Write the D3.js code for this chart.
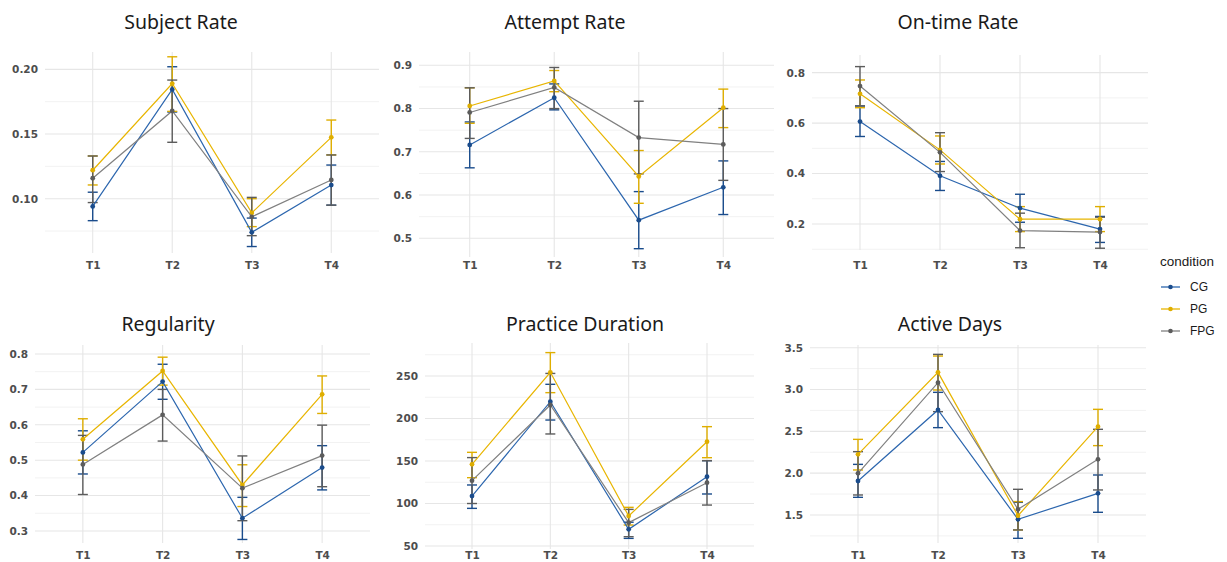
<!DOCTYPE html>
<html>
<head>
<meta charset="utf-8">
<script src="https://cdn.jsdelivr.net/npm/d3@7"></script>
<style>
  body { margin: 0; background: #fff; }
  .tick text { font-family: "DejaVu Sans", sans-serif; font-weight: bold; fill: #4d4d4d; }
</style>
</head>
<body>
<svg id="chart" width="1227" height="562"></svg>
<script>
const times = ['T1', 'T2', 'T3', 'T4'];
const conditions = ['CG', 'PG', 'FPG'];

// rows: CG, PG, FPG
const subjectMean = [[0.094, 0.1845, 0.074, 0.1105], [0.122, 0.189, 0.089, 0.1474], [0.1158, 0.1678, 0.086, 0.1145]];
const subjectLow = [[0.083, 0.167, 0.063, 0.095], [0.1106, 0.1675, 0.0784, 0.1338], [0.097, 0.1436, 0.0714, 0.095]];
const subjectHigh = [[0.105, 0.202, 0.085, 0.126], [0.133, 0.2097, 0.100, 0.1608], [0.133, 0.1917, 0.101, 0.1338]];

const attemptMean = [[0.716, 0.825, 0.542, 0.618], [0.806, 0.864, 0.643, 0.802], [0.791, 0.849, 0.733, 0.717]];
const attemptLow = [[0.663, 0.797, 0.476, 0.555], [0.766, 0.839, 0.581, 0.756], [0.731, 0.800, 0.649, 0.634]];
const attemptHigh = [[0.769, 0.857, 0.608, 0.679], [0.848, 0.888, 0.703, 0.845], [0.848, 0.895, 0.817, 0.800]];

const ontimeMean = [[0.606, 0.391, 0.263, 0.180], [0.716, 0.494, 0.219, 0.219], [0.747, 0.484, 0.174, 0.168]];
const ontimeLow = [[0.547, 0.333, 0.207, 0.127], [0.661, 0.438, 0.170, 0.170], [0.668, 0.408, 0.106, 0.104]];
const ontimeHigh = [[0.668, 0.448, 0.318, 0.230], [0.771, 0.549, 0.269, 0.269], [0.824, 0.562, 0.243, 0.227]];

const regularityMean = [[0.522, 0.722, 0.336, 0.479], [0.559, 0.752, 0.430, 0.686], [0.488, 0.628, 0.421, 0.513]];
const regularityLow = [[0.461, 0.672, 0.276, 0.416], [0.500, 0.712, 0.369, 0.632], [0.403, 0.554, 0.329, 0.425]];
const regularityHigh = [[0.583, 0.771, 0.395, 0.541], [0.617, 0.791, 0.487, 0.738], [0.570, 0.700, 0.512, 0.599]];

const durationMean = [[108.8, 219.8, 69.6, 131.6], [146.1, 254.3, 85.3, 172.7], [126.9, 215.9, 77.5, 124.5]];
const durationLow = [[94.3, 198.2, 59, 111.2], [130.4, 230.4, 74.7, 153.9], [100, 181.8, 61, 98.2]];
const durationHigh = [[121.8, 240.2, 78, 150.4], [160.2, 277.5, 95.5, 190.4], [154, 253, 93.1, 150.4]];

const activeMean = [[1.906, 2.755, 1.448, 1.759], [2.225, 3.205, 1.492, 2.556], [1.998, 3.082, 1.568, 2.165]];
const activeLow = [[1.711, 2.544, 1.221, 1.532], [2.038, 2.994, 1.321, 2.329], [1.739, 2.735, 1.321, 1.799]];
const activeHigh = [[2.105, 2.966, 1.651, 1.978], [2.404, 3.40, 1.66, 2.763], [2.257, 3.42, 1.807, 2.524]];

const lineColor = { CG: '#2c66ae', PG: '#e8b500', FPG: '#808080' };
const barColor = { CG: '#1a4c8c', PG: '#dfae00', FPG: '#5c5c5c' };

const panels = [
  { title: 'Subject Rate', mean: subjectMean, low: subjectLow, high: subjectHigh,
    x0: 45, x1: 379, y0: 52, y1: 253, dom: [0.058, 0.2134], ticks: [0.10, 0.15, 0.20], fmt: '.2f',
    tx: 181, ty: 21, ly: 267 },
  { title: 'Attempt Rate', mean: attemptMean, low: attemptLow, high: attemptHigh,
    x0: 419, x1: 774, y0: 52, y1: 257, dom: [0.4568, 0.9308], ticks: [0.5, 0.6, 0.7, 0.8, 0.9], fmt: '.1f',
    tx: 565, ty: 21, ly: 267 },
  { title: 'On-time Rate', mean: ontimeMean, low: ontimeLow, high: ontimeHigh,
    x0: 812, x1: 1148, y0: 55, y1: 250, dom: [0.097, 0.870], ticks: [0.2, 0.4, 0.6, 0.8], fmt: '.1f',
    tx: 958, ty: 21, ly: 267 },
  { title: 'Regularity', mean: regularityMean, low: regularityLow, high: regularityHigh,
    x0: 35, x1: 370, y0: 345, y1: 543, dom: [0.266, 0.8254], ticks: [0.3, 0.4, 0.5, 0.6, 0.7, 0.8], fmt: '.1f',
    tx: 168, ty: 323, ly: 557 },
  { title: 'Practice Duration', mean: durationMean, low: durationLow, high: durationHigh,
    x0: 425, x1: 754, y0: 343, y1: 549, dom: [46.5, 288.8], ticks: [50, 100, 150, 200, 250], fmt: 'd',
    tx: 585, ty: 323, ly: 557 },
  { title: 'Active Days', mean: activeMean, low: activeLow, high: activeHigh,
    x0: 810, x1: 1146, y0: 345, y1: 543, dom: [1.165, 3.532], ticks: [1.5, 2.0, 2.5, 3.0, 3.5], fmt: '.1f',
    tx: 950, ty: 323, ly: 557 },
];

const svg = d3.select('#chart');

panels.forEach((p) => {
  const x = d3.scalePoint().domain(times).range([p.x0, p.x1]).padding(0.6);
  const y = d3.scaleLinear().domain(p.dom).range([p.y1, p.y0]);
  const g = svg.append('g');

  // minor gridlines halfway between the majors
  const step = p.ticks[1] - p.ticks[0];
  const minor = [p.ticks[0] - step / 2, ...p.ticks.map((t) => t + step / 2)]
    .filter((v) => v >= p.dom[0] && v <= p.dom[1]);
  g.selectAll('.minor').data(minor).enter().append('line')
    .attr('x1', p.x0).attr('x2', p.x1)
    .attr('y1', (d) => y(d)).attr('y2', (d) => y(d))
    .attr('stroke', '#f2f2f2').attr('stroke-width', 1);
  g.selectAll('.major').data(p.ticks).enter().append('line')
    .attr('x1', p.x0).attr('x2', p.x1)
    .attr('y1', (d) => y(d)).attr('y2', (d) => y(d))
    .attr('stroke', '#e6e6e6').attr('stroke-width', 1.1);
  g.selectAll('.vgrid').data(times).enter().append('line')
    .attr('x1', (d) => x(d)).attr('x2', (d) => x(d))
    .attr('y1', p.y0).attr('y2', p.y1)
    .attr('stroke', '#e6e6e6').attr('stroke-width', 1.1);

  // axes (labels only)
  const ya = g.append('g')
    .attr('transform', `translate(${p.x0},0)`)
    .call(d3.axisLeft(y).tickValues(p.ticks).tickFormat(d3.format(p.fmt)).tickSize(0).tickPadding(7));
  ya.select('.domain').remove();
  ya.selectAll('text').style('font-size', '10.5px');

  const xa = g.append('g')
    .attr('transform', `translate(0,${p.ly - 5})`)
    .call(d3.axisBottom(x).tickSize(0).tickPadding(0));
  xa.select('.domain').remove();
  xa.selectAll('text').style('font-size', '10.5px');

  // title
  svg.append('text')
    .attr('x', p.tx).attr('y', p.ty)
    .attr('text-anchor', 'middle').attr('dominant-baseline', 'central')
    .attr('font-family', '"Noto Sans", sans-serif').attr('font-size', '19.5px')
    .attr('fill', '#1a1a1a')
    .text(p.title);

  conditions.forEach((c, ci) => {
    const rows = times.map((t, ti) => ({
      t, m: p.mean[ci][ti], lo: p.low[ci][ti], hi: p.high[ci][ti],
    }));
    const eb = g.append('g').attr('stroke', barColor[c]).attr('stroke-width', 1.4);
    eb.selectAll('.v').data(rows).enter().append('line')
      .attr('x1', (d) => x(d.t)).attr('x2', (d) => x(d.t))
      .attr('y1', (d) => y(d.lo)).attr('y2', (d) => y(d.hi));
    ['lo', 'hi'].forEach((k) => {
      eb.selectAll(`.${k}`).data(rows).enter().append('line')
        .attr('x1', (d) => x(d.t) - 5).attr('x2', (d) => x(d.t) + 5)
        .attr('y1', (d) => y(d[k])).attr('y2', (d) => y(d[k]));
    });
  });

  conditions.forEach((c, ci) => {
    const rows = times.map((t, ti) => ({ t, m: p.mean[ci][ti] }));
    g.append('path')
      .datum(rows)
      .attr('fill', 'none')
      .attr('stroke', lineColor[c])
      .attr('stroke-width', 1.2)
      .attr('d', d3.line().x((d) => x(d.t)).y((d) => y(d.m)));
    g.selectAll(`.pt${c}`).data(rows).enter().append('circle')
      .attr('cx', (d) => x(d.t)).attr('cy', (d) => y(d.m))
      .attr('r', 2.4)
      .attr('fill', barColor[c]);
  });
});

// legend
const lg = svg.append('g').attr('transform', 'translate(1160,0)');
lg.append('text')
  .attr('x', 0).attr('y', 261)
  .attr('dominant-baseline', 'central')
  .attr('font-family', '"Liberation Sans", Arial, sans-serif').attr('font-size', '13.5px')
  .attr('fill', '#1a1a1a')
  .text('condition');
const legendY = d3.scalePoint().domain(conditions).range([287, 331]);
conditions.forEach((c) => {
  const ly = legendY(c);
  lg.append('line')
    .attr('x1', 1).attr('x2', 20).attr('y1', ly).attr('y2', ly)
    .attr('stroke', lineColor[c]).attr('stroke-width', 1.3);
  lg.append('circle').attr('cx', 10.5).attr('cy', ly).attr('r', 2.3).attr('fill', barColor[c]);
  lg.append('text')
    .attr('x', 30).attr('y', ly)
    .attr('dominant-baseline', 'central')
    .attr('font-family', '"Liberation Sans", Arial, sans-serif').attr('font-size', '12px')
    .attr('fill', '#1a1a1a')
    .text(c);
});
</script>
</body>
</html>
